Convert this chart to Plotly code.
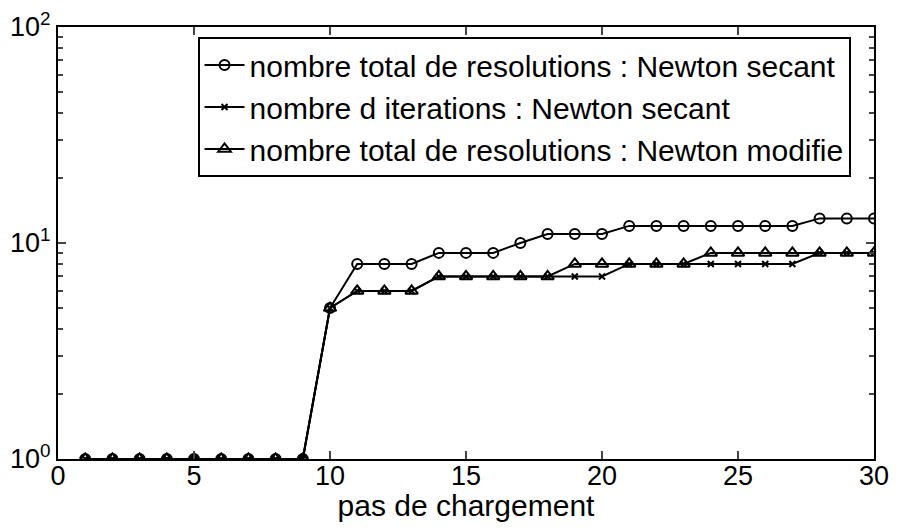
import plotly.graph_objects as go

steps = list(range(1, 31))
total_secant = [1, 1, 1, 1, 1, 1, 1, 1, 1, 5, 8, 8, 8, 9, 9, 9, 10, 11, 11, 11,
                12, 12, 12, 12, 12, 12, 12, 13, 13, 13]
iter_secant = [1, 1, 1, 1, 1, 1, 1, 1, 1, 5, 6, 6, 6, 7, 7, 7, 7, 7, 7, 7,
               8, 8, 8, 8, 8, 8, 8, 9, 9, 9]
total_modifie = [1, 1, 1, 1, 1, 1, 1, 1, 1, 5, 6, 6, 6, 7, 7, 7, 7, 7, 8, 8,
                 8, 8, 8, 9, 9, 9, 9, 9, 9, 9]
names = ["nombre total de resolutions : Newton secant",
         "nombre d iterations : Newton secant",
         "nombre total de resolutions : Newton modifie"]
x_ticks = [0, 5, 10, 15, 20, 25, 30]
y_ticks = [1, 10, 100]
y_ticktext = ["10<sup>0</sup>", "10<sup>1</sup>", "10<sup>2</sup>"]

fig = go.Figure()
fig.add_trace(go.Scatter(x=steps, y=total_secant, name=names[0], mode="lines+markers",
                         line=dict(color="black", width=2),
                         marker=dict(symbol="circle-open", size=10, color="black",
                                     line=dict(width=2, color="black"))))
fig.add_trace(go.Scatter(x=steps, y=iter_secant, name=names[1], mode="lines+markers",
                         line=dict(color="black", width=2),
                         marker=dict(symbol="x-thin-open", size=6, color="black",
                                     line=dict(width=2, color="black"))))
fig.add_trace(go.Scatter(x=steps, y=total_modifie, name=names[2], mode="lines+markers",
                         line=dict(color="black", width=2),
                         marker=dict(symbol="triangle-up-open", size=11, color="black",
                                     line=dict(width=2, color="black"))))

font = "Liberation Sans, Arial, sans-serif"
fig.update_layout(
    width=882, height=514,
    margin=dict(l=50, r=16, t=19, b=63),
    plot_bgcolor="white", paper_bgcolor="white",
    font=dict(family=font, color="black", size=26),
    showlegend=True,
    legend=dict(x=0.171, y=0.977, xanchor="left", yanchor="top",
                bordercolor="black", borderwidth=2, bgcolor="white",
                font=dict(size=30, family=font), tracegroupgap=0,
                itemwidth=40),
)
fig.update_xaxes(range=[0, 30], tickvals=x_ticks, ticks="inside", ticklen=8,
                 tickwidth=1.5, mirror="ticks", showline=True, linecolor="black",
                 linewidth=2, showgrid=False, zeroline=False, automargin=False,
                 ticklabelstandoff=-8,
                 title=dict(text="pas de chargement", font=dict(size=30), standoff=0),
                 tickfont=dict(size=27))
fig.update_yaxes(type="log", range=[0, 2], tickvals=y_ticks, ticktext=y_ticktext,
                 ticks="inside", ticklen=8, tickwidth=1.5, mirror="ticks",
                 showline=True, linecolor="black", linewidth=2, showgrid=False,
                 zeroline=False, tickfont=dict(size=27), automargin=False,
                 minor=dict(ticks="inside", ticklen=5, tickwidth=1.5,
                            tickvals=[2, 3, 4, 5, 6, 7, 8, 9, 20, 30, 40, 50, 60, 70, 80, 90],
                            showgrid=False))

fig.write_html("out.html")
